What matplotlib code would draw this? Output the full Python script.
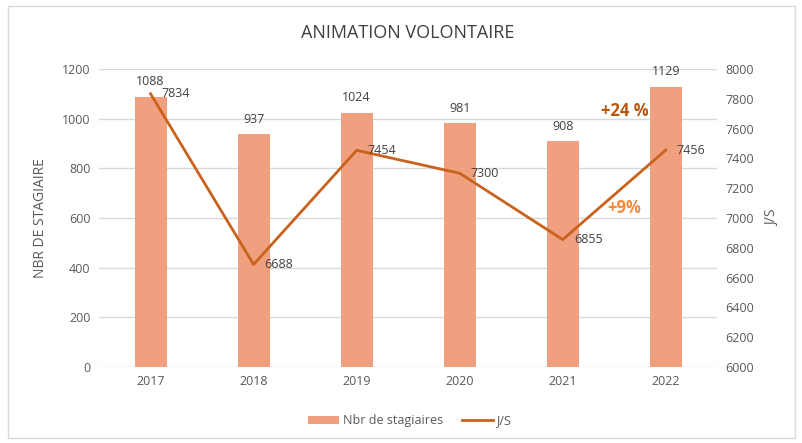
import matplotlib
matplotlib.use("Agg")
from matplotlib import pyplot as plt
from matplotlib.patches import Rectangle

plt.rcParams['font.family'] = ['Open Sans', 'DejaVu Sans']

# data
years = ['2017', '2018', '2019', '2020', '2021', '2022']
stagiaires = [1088, 937, 1024, 981, 908, 1129]
js = [7834, 6688, 7454, 7300, 6855, 7456]

bar_color = '#F0A07F'
line_color = '#C8621C'
text_color = '#404040'
tick_color = '#595959'

fig = plt.figure(figsize=(8.03, 4.43), dpi=100)
ax = fig.add_axes([0.1233, 0.1716, 0.770, 0.6727])
ax2 = ax.twinx()

x = list(range(len(years)))

# bars (left axis)
bars = ax.bar(x, stagiaires, width=0.31, color=bar_color, zorder=2, label='Nbr de stagiaires')
ax.set_ylim(0, 1200)
ax.set_yticks(range(0, 1201, 200))
ax.set_xlim(-0.5, len(years) - 0.5)
ax.set_xticks(x)
ax.set_xticklabels(years)
ax.grid(axis='y', color='#D9D9D9', linewidth=1, zorder=0)
ax.set_axisbelow(True)
for i, v in enumerate(stagiaires):
    ax.annotate(str(v), (i, v), xytext=(0, 6), textcoords='offset points',
                ha='center', va='bottom', fontsize=9, color=text_color)

# line (right axis)
line, = ax2.plot(x, js, color=line_color, linewidth=2, zorder=3, label='J/S')
ax2.set_ylim(6000, 8000)
ax2.set_yticks(range(6000, 8001, 200))
for i, v in enumerate(js):
    ax2.annotate(str(v), (i, v), xytext=(8, 0), textcoords='offset points',
                 ha='left', va='center', fontsize=9, color=text_color)

for a in (ax, ax2):
    for s in a.spines.values():
        s.set_visible(False)
    a.tick_params(length=0, labelsize=9, labelcolor=tick_color, pad=6)

ax.set_ylabel('NBR DE STAGIAIRE', fontsize=10, color=tick_color, labelpad=10)
ax2.set_ylabel('J/S', fontsize=10, color=tick_color, rotation=90, labelpad=8)

# percent annotations
ax2.text(4.6, 7720, '+24 %', fontsize=12, fontweight='bold', color='#B8560E',
         ha='center', va='center')
ax2.text(4.6, 7070, '+9%', fontsize=12, fontweight='bold', color='#F58A3C',
         ha='center', va='center')

fig.text(0.508, 0.925, 'ANIMATION VOLONTAIRE', ha='center', va='center',
         fontsize=13, color=text_color)

fig.legend(handles=[bars, line], loc='center', bbox_to_anchor=(0.51, 0.05),
           ncol=2, frameon=False, fontsize=9, labelcolor=tick_color,
           handlelength=2.5, handletextpad=0.3, columnspacing=1.5)

# light frame around the chart
fig.patches.append(Rectangle((0.01, 0.012), 0.98, 0.975, transform=fig.transFigure,
                             fill=False, edgecolor='#D9D9D9', linewidth=1))

fig.savefig('out.png', dpi=100, facecolor='white')
